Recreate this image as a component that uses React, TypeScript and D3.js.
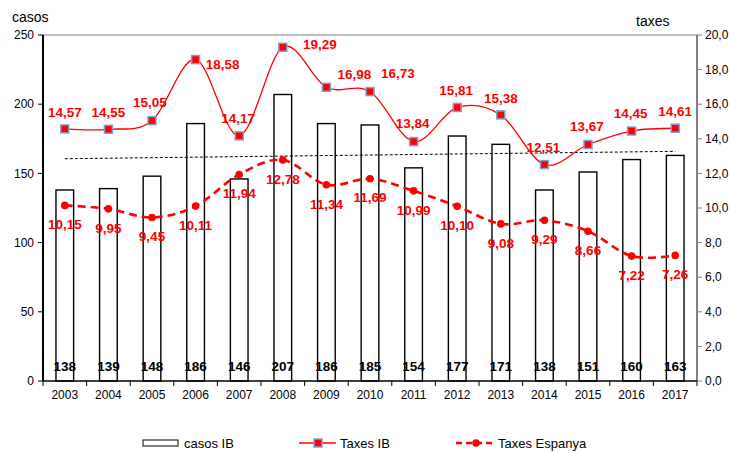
import React from "react";
import * as d3 from "d3";

const years = ["2003","2004","2005","2006","2007","2008","2009","2010","2011","2012","2013","2014","2015","2016","2017"];
const casosIB = [138,139,148,186,146,207,186,185,154,177,171,138,151,160,163];
const taxesIB = [14.57,14.55,15.05,18.58,14.17,19.29,16.98,16.73,13.84,15.81,15.38,12.51,13.67,14.45,14.61];
const taxesEsp = [10.15,9.95,9.45,10.11,11.94,12.78,11.34,11.69,10.99,10.10,9.08,9.29,8.66,7.22,7.26];
const leftTicks = [0,50,100,150,200,250];
const rightTicks = [0,2,4,6,8,10,12,14,16,18,20];
// label offsets for Taxes IB labels (dx, dy relative to marker)
const ibLabelDx = [0,0,-2,27,-1,37,28,28,-1,-1,0,-1,-1,-1,0];
const ibLabelDy = [-17,-17,-18,5,-18,-3,-13,-18,-18,-17,-17,-17,-18,-18,-17];

const W = 732, H = 453;
const M = { l: 43, r: 697, t: 35, b: 381 };
const FONT = "'Liberation Sans', Arial, sans-serif";
const RED = "#ff0000";

const fmt = (v: number, d: number) => v.toFixed(d).replace(".", ",");

export default function App() {
  const x = d3.scaleBand<string>().domain(years).range([M.l, M.r]).paddingInner(0).paddingOuter(0);
  const yL = d3.scaleLinear().domain([0, 250]).range([M.b, M.t]);
  const yR = d3.scaleLinear().domain([0, 20]).range([M.b, M.t]);
  const bw = x.bandwidth();
  const barW = bw * 0.405;
  const cx = (y: string) => (x(y) as number) + bw / 2;

  const lineIB = d3.line<number>().x((_, i) => cx(years[i])).y(d => yR(d)).curve(d3.curveCatmullRom.alpha(0));
  const lineEsp = d3.line<number>().x((_, i) => cx(years[i])).y(d => yR(d)).curve(d3.curveCatmullRom.alpha(0));

  // linear trend of casos
  const n = casosIB.length;
  const xm = (n - 1) / 2;
  const ym = d3.mean(casosIB) as number;
  let sxy = 0, sxx = 0;
  casosIB.forEach((v, i) => { sxy += (i - xm) * (v - ym); sxx += (i - xm) ** 2; });
  const slope = sxy / sxx;
  const t0 = ym - slope * xm;
  const t1 = ym + slope * (n - 1 - xm);

  const boundaries = years.map(y => x(y) as number).concat([M.r]);

  return (
    <svg width={W} height={H} style={{ position: "absolute", left: 0, top: 0, background: "#fff" }} fontFamily={FONT}>
      <rect x={0} y={0} width={W} height={H} fill="#fff" />
      {/* top border */}
      <line x1={M.l} x2={M.r} y1={M.t} y2={M.t} stroke="#808080" strokeWidth={1} />
      {/* right axis */}
      <line x1={M.r} x2={M.r} y1={M.t} y2={M.b} stroke="#808080" strokeWidth={2} />
      {rightTicks.map(t => (
        <g key={"r" + t}>
          <line x1={M.r} x2={M.r + 5} y1={yR(t)} y2={yR(t)} stroke="#808080" strokeWidth={1} />
          <text x={M.r + 8} y={yR(t)} dy="0.35em" fontSize={12} fill="#000">{fmt(t, 1)}</text>
        </g>
      ))}
      {/* bars */}
      {casosIB.map((v, i) => (
        <rect key={"b" + i} x={cx(years[i]) - barW / 2} y={yL(v)} width={barW} height={yL(0) - yL(v)} fill="#fff" stroke="#000" strokeWidth={1.4} />
      ))}
      {/* left axis */}
      <line x1={M.l} x2={M.l} y1={M.t} y2={M.b} stroke="#000" strokeWidth={2} />
      {leftTicks.map(t => (
        <g key={"l" + t}>
          <line x1={M.l - 5} x2={M.l} y1={yL(t)} y2={yL(t)} stroke="#000" strokeWidth={1} />
          <text x={M.l - 9} y={yL(t)} dy="0.35em" fontSize={12} textAnchor="end" fill="#000">{t}</text>
        </g>
      ))}
      {/* x axis */}
      <line x1={M.l} x2={M.r} y1={M.b} y2={M.b} stroke="#000" strokeWidth={1.5} />
      {boundaries.map((b, i) => (
        <line key={"xt" + i} x1={b} x2={b} y1={M.b} y2={M.b + 5} stroke="#000" strokeWidth={1} />
      ))}
      {years.map(y => (
        <text key={"xl" + y} x={cx(y)} y={395} dy="0.35em" textAnchor="middle" fontSize={12} fill="#000">{y}</text>
      ))}
      {/* trend */}
      <line x1={cx(years[0])} x2={cx(years[n - 1])} y1={yL(t0)} y2={yL(t1)} stroke="#000" strokeWidth={1} strokeDasharray="3,2" />
      {/* Taxes Espanya */}
      <path d={lineEsp(taxesEsp) as string} fill="none" stroke={RED} strokeWidth={2.6} strokeDasharray="8,5" />
      {taxesEsp.map((v, i) => (
        <circle key={"ec" + i} cx={cx(years[i])} cy={yR(v)} r={3.8} fill={RED} />
      ))}
      {/* Taxes IB */}
      <path d={lineIB(taxesIB) as string} fill="none" stroke={RED} strokeWidth={1.3} />
      {taxesIB.map((v, i) => (
        <rect key={"ir" + i} x={cx(years[i]) - 4} y={yR(v) - 4} width={8} height={8} fill={RED} stroke="#7f9fd3" strokeWidth={1.5} />
      ))}
      {/* count labels */}
      {casosIB.map((v, i) => (
        <text key={"cl" + i} x={cx(years[i])} y={366} dy="0.35em" textAnchor="middle" fontSize={13.5} fontWeight="bold" fill="#000">{v}</text>
      ))}
      {/* labels */}
      {taxesIB.map((v, i) => (
        <text key={"il" + i} x={cx(years[i]) + ibLabelDx[i]} y={yR(v) + ibLabelDy[i]} dy="0.35em" textAnchor="middle" fontSize={13.5} fontWeight="bold" fill={RED}>{fmt(v, 2)}</text>
      ))}
      {taxesEsp.map((v, i) => (
        <text key={"el" + i} x={cx(years[i])} y={yR(v) + 19} dy="0.35em" textAnchor="middle" fontSize={13.5} fontWeight="bold" fill={RED}>{fmt(v, 2)}</text>
      ))}
      {/* axis titles */}
      <text x={12} y={22} fontSize={14} fill="#000">casos</text>
      <text x={636} y={26} fontSize={14} fill="#000">taxes</text>
      {/* legend */}
      <rect x={143} y={440} width={35} height={6} fill="#fff" stroke="#000" strokeWidth={1} />
      <text x={184} y={443} dy="0.35em" fontSize={13} fill="#000">casos IB</text>
      <line x1={299} x2={336} y1={443} y2={443} stroke={RED} strokeWidth={1.3} />
      <rect x={314} y={439} width={8} height={8} fill={RED} stroke="#7f9fd3" strokeWidth={1.5} />
      <text x={340} y={443} dy="0.35em" fontSize={13} fill="#000">Taxes IB</text>
      <line x1={456} x2={495} y1={443} y2={443} stroke={RED} strokeWidth={2.6} strokeDasharray="6,4" />
      <circle cx={476} cy={443} r={3.8} fill={RED} />
      <text x={498} y={443} dy="0.35em" fontSize={13} fill="#000">Taxes Espanya</text>
    </svg>
  );
}
